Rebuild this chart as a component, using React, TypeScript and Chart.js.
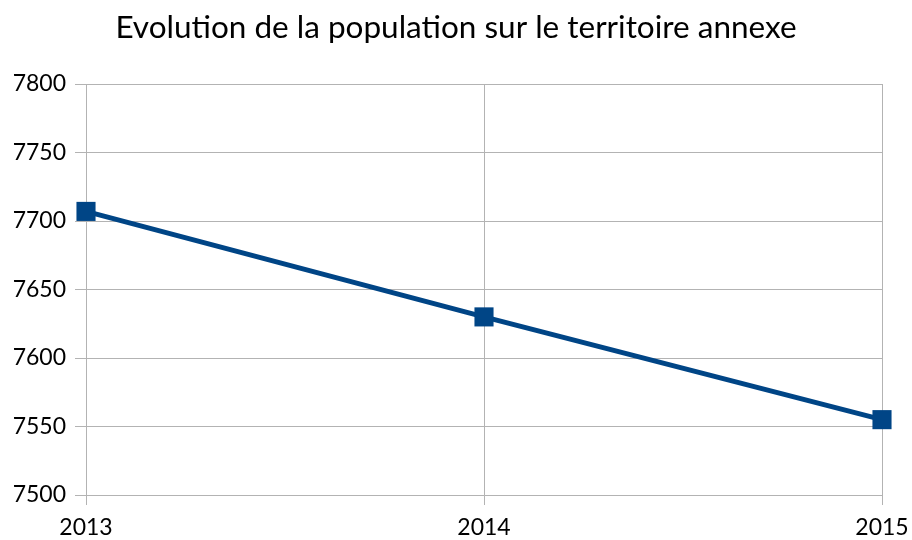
import React, { useEffect, useRef } from "react";
import { Chart, registerables } from "chart.js";

Chart.register(...registerables);

const years = ["2013", "2014", "2015"];
const population = [7707, 7630, 7555];
const yMin = 7500;
const yMax = 7800;
const yStep = 50;
const title = "Evolution de la population sur le territoire annexe";

export default function App() {
  const ref = useRef<HTMLCanvasElement>(null);
  useEffect(() => {
    if (!ref.current) return;
    const chart = new Chart(ref.current, {
      type: "line",
      data: {
        labels: years,
        datasets: [
          {
            data: population,
            borderColor: "#004586",
            backgroundColor: "#004586",
            borderWidth: 5,
            pointStyle: "rect",
            pointRadius: 13.5,
            pointHoverRadius: 13.5,
            pointBorderWidth: 0,
            tension: 0,
            clip: false as any,
          },
        ],
      },
      options: {
        responsive: false,
        animation: false,
        layout: { padding: 0 },
        plugins: {
          legend: { display: false },
          tooltip: { enabled: false },
          title: {
            display: true,
            text: title,
            color: "#000",
            font: { family: "Lato", size: 31.5, weight: "normal" },
            padding: { top: 9, bottom: 37.2 },
          },
        },
        scales: {
          x: {
            offset: false,
            grid: { color: "#b3b3b3", lineWidth: 1, tickLength: 10, drawTicks: true },
            border: { color: "#b3b3b3" },
            ticks: { color: "#000", font: { family: "Lato", size: 23 }, padding: 9, maxRotation: 0 },
            afterFit: (s: any) => {
              s.height = 45;
              s.paddingLeft = 0;
              s.paddingRight = 0;
            },
          },
          y: {
            min: yMin,
            max: yMax,
            grid: { color: "#b3b3b3", lineWidth: 1, tickLength: 11 },
            border: { color: "#b3b3b3" },
            ticks: {
              stepSize: yStep,
              color: "#000",
              font: { family: "Lato", size: 23 },
              padding: 9,
              callback: (v: any) => String(v),
            },
            afterFit: (s: any) => { s.width = 86; },
          },
          yRight: {
            position: "right",
            min: yMin,
            max: yMax,
            display: true,
            grid: { display: false, drawOnChartArea: false },
            border: { display: false },
            ticks: { display: false },
            afterFit: (s: any) => { s.width = 30; },
          },
        },
      },
    });
    return () => chart.destroy();
  }, []);
  return (
    <div style={{ position: "fixed", left: 0, top: 0, width: 912, height: 540, background: "#fff" }}>
      <canvas ref={ref} width={912} height={540} />
    </div>
  );
}
